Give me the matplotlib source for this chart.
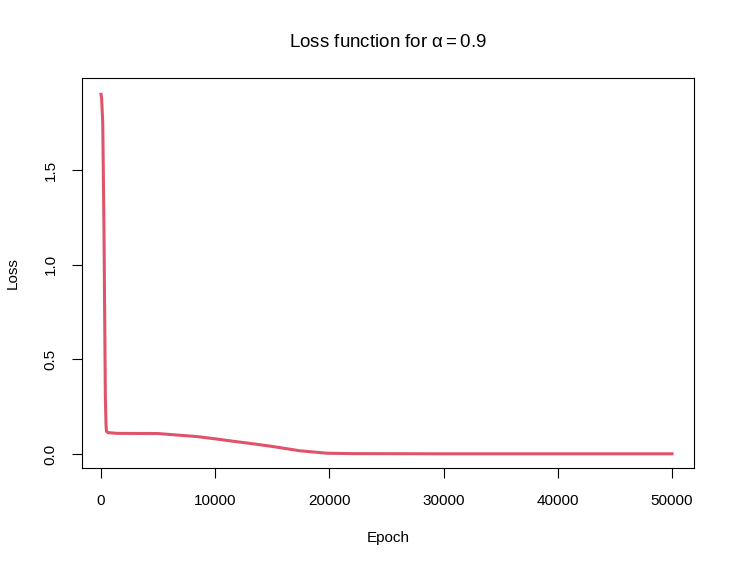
import matplotlib
matplotlib.use('Agg')
import matplotlib.pyplot as plt

epoch = [0, 50, 150, 160, 260, 270, 375, 380, 440, 480, 600, 1000, 1400, 5000,
         6900, 8400, 10150, 11600, 13300, 15100, 17400, 19800, 22000, 30000,
         40000, 50000]
loss = [1.90, 1.88, 1.75, 1.70, 1.18, 1.10, 0.33, 0.30, 0.15, 0.12, 0.113,
        0.111, 0.109, 0.108, 0.099, 0.092, 0.079, 0.067, 0.054, 0.039, 0.017,
        0.004, 0.002, 0.001, 0.001, 0.001]

xticks = [0, 10000, 20000, 30000, 40000, 50000]
yticks = [0.0, 0.5, 1.0, 1.5]


def main():
    plt.rcParams['font.family'] = ['Liberation Sans', 'DejaVu Sans']
    plt.rcParams['mathtext.fontset'] = 'custom'
    plt.rcParams['mathtext.rm'] = 'Liberation Sans'
    plt.rcParams['mathtext.it'] = 'Liberation Sans'

    fig = plt.figure(figsize=(7.35, 5.67), dpi=100)
    ax = fig.add_axes([0.1116, 0.1746, 0.8326, 0.6878])

    ax.plot(epoch, loss, color='#DF536B', lw=2.2, solid_joinstyle='miter')

    ax.set_xlim(-1664, 51926)
    ax.set_ylim(-0.074, 1.986)
    ax.set_xticks(xticks)
    ax.set_xticklabels([str(t) for t in xticks])
    ax.set_yticks(yticks)
    ax.set_yticklabels(['%.1f' % t for t in yticks], rotation=90, va='center')
    ax.tick_params(direction='out', length=7, width=0.8, labelsize=11)
    ax.tick_params(axis='x', pad=12)
    ax.tick_params(axis='y', pad=10.5)
    for s in ax.spines.values():
        s.set_linewidth(0.8)

    ax.set_xlabel('Epoch', fontsize=11, labelpad=16.5)
    ax.set_ylabel('Loss', fontsize=11, labelpad=17.5)
    ax.set_title(r'Loss function for $\alpha = 0.9$', fontsize=13.5, pad=22)

    fig.savefig('out.png', dpi=100)


if __name__ == '__main__':
    main()
